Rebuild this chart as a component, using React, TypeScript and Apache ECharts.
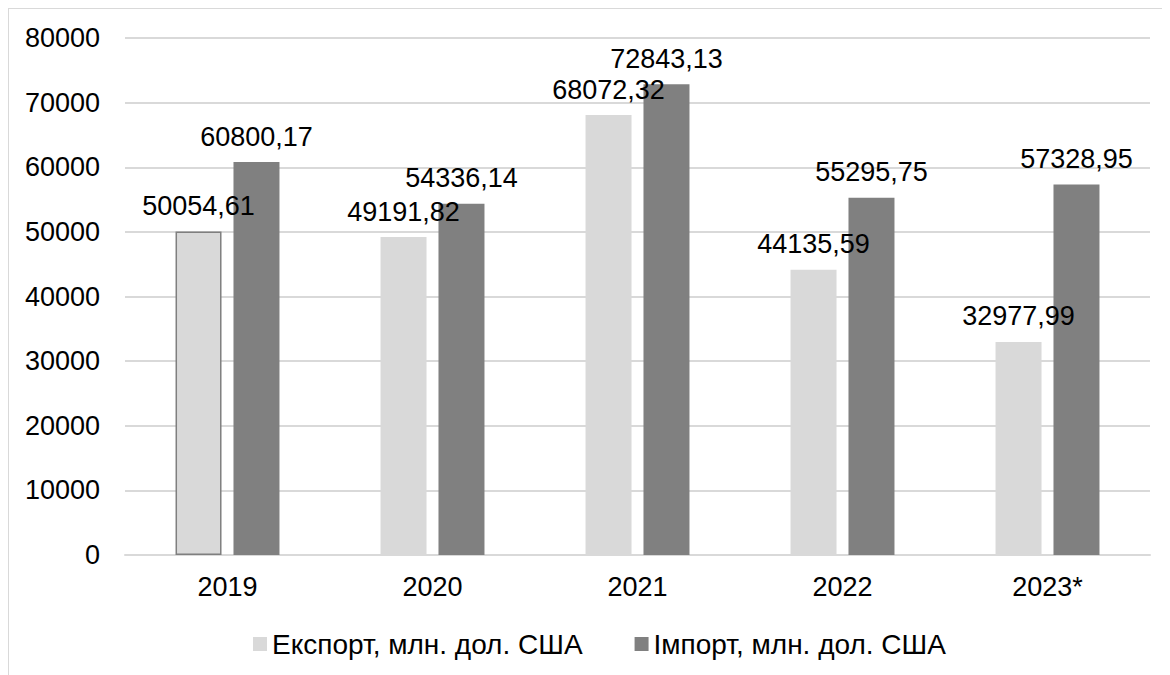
import React, { useEffect, useRef } from "react";
import * as echarts from "echarts";

const categories = ["2019", "2020", "2021", "2022", "2023*"];
const exportValues = [50054.61, 49191.82, 68072.32, 44135.59, 32977.99];
const importValues = [60800.17, 54336.14, 72843.13, 55295.75, 57328.95];
const seriesNames = ["Експорт, млн. дол. США", "Імпорт, млн. дол. США"];
const yTicks = { min: 0, max: 80000, interval: 10000 };

const FONT = "'Liberation Sans', Arial, sans-serif";
const fmt = (v: number) => v.toFixed(2).replace(".", ",");

export default function App() {
  const ref = useRef<HTMLDivElement>(null);
  useEffect(() => {
    if (!ref.current) return;
    const chart = echarts.init(ref.current, undefined, { renderer: "svg" });
    const labelCfg = {
      show: true,
      position: "top",
      distance: 12,
      color: "#000",
      fontSize: 27,
      fontFamily: FONT,
      formatter: (p: any) => fmt(p.value as number),
    };
    chart.setOption({
      animation: false,
      textStyle: { fontFamily: FONT },
      grid: { left: 116, right: 20, top: 29, bottom: 120, containLabel: false },
      legend: {
        left: 244,
        top: 621,
        padding: 0,
        itemWidth: 14,
        itemHeight: 14,
        itemGap: 52,
        icon: "rect",
        textStyle: { fontSize: 28, color: "#000", fontFamily: FONT },
        data: seriesNames,
      },
      xAxis: {
        type: "category",
        data: categories,
        axisLine: { show: true, lineStyle: { color: "#d9d9d9", width: 2 } },
        axisTick: { show: false },
        axisLabel: { color: "#000", fontSize: 27, fontFamily: FONT, margin: 18 },
      },
      yAxis: {
        type: "value",
        min: yTicks.min,
        max: yTicks.max,
        interval: yTicks.interval,
        axisLine: { show: false },
        axisTick: { show: false },
        splitLine: { lineStyle: { color: "#d9d9d9", width: 2 } },
        axisLabel: {
          color: "#000",
          fontSize: 27,
          fontFamily: FONT,
          margin: 25,
          formatter: (v: number) => String(v),
        },
      },
      series: [
        {
          name: seriesNames[0],
          type: "bar",
          barWidth: 46,
          barGap: "26%",
          itemStyle: { color: "#d9d9d9" },
          label: labelCfg,
          data: exportValues.map((v, i) =>
            i === 0
              ? { value: v, itemStyle: { color: "#d9d9d9", borderColor: "#7f7f7f", borderWidth: 1.5 } }
              : { value: v }
          ),
        },
        {
          name: seriesNames[1],
          type: "bar",
          barWidth: 46,
          itemStyle: { color: "#808080" },
          label: labelCfg,
          data: importValues,
        },
      ],
    });
    return () => chart.dispose();
  }, []);
  return (
    <div
      style={{
        width: 1161,
        height: 666,
        borderLeft: "1px solid #d9d9d9",
        borderTop: "1px solid #d9d9d9",
        overflow: "hidden",
      }}
    >
      <div ref={ref} style={{ width: 1161, height: 666 }} />
    </div>
  );
}
